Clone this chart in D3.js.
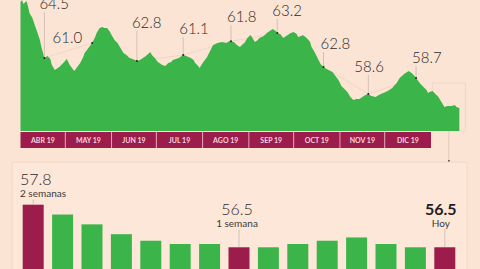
<!DOCTYPE html>
<html>
<head>
<meta charset="utf-8">
<script src="https://cdn.jsdelivr.net/npm/d3@7"></script>
<style>
  html, body { margin: 0; padding: 0; background: #fce4d4; overflow: hidden; }
  svg { display: block; }
  text { font-family: Lato, "Open Sans", sans-serif; }
</style>
</head>
<body>
<svg id="chart" width="480" height="269"></svg>
<script>
// ---------------- DATA ----------------
// Area series: day offset from 2019-04-01, index value
const areaDays = [0,1,2,4,5,6,8,10,11,13,14,16,18,20,21,23,24,26,28,31,33,35,36,38,40,42,43,45,48,50,51,53,55,56,58,60,61,63,65,67,69,71,73,75,78,80,82,84,87,88,90,92,95,97,99,101,102,104,106,109,111,114,116,117,119,120,122,125,127,129,132,135,138,140,143,145,147,149,150,152,154,155,157,159,160,163,165,167,169,171,172,174,176,178,179,181,183,185,186,188,189,191,193,194,195,197,199,201,203,205,209,211,213,215,219,221,223,225,227,229,231,233,235,238,240,243,246,249,252,254,257,260,262,264,266,268,270,272,273,274,276,278,280,282,284,286,289,291,292,294];
const areaValues = [64.8,65.0,64.6,64.9,64.4,63.7,63.2,62.3,61.9,61.0,60.3,59.2,59.4,59.1,58.5,58.0,58.1,58.3,58.6,59.1,58.5,58.1,57.9,58.3,58.7,59.3,59.7,60.1,60.7,61.3,61.7,62.2,62.3,62.2,62.2,61.8,61.5,61.0,60.7,60.2,59.7,59.5,59.2,59.1,58.9,59.0,59.2,59.4,59.8,59.5,59.2,58.8,58.5,58.4,58.7,58.8,59.0,59.1,59.2,59.5,59.4,59.2,59.0,58.7,58.4,58.2,58.7,59.3,59.9,60.5,60.7,60.8,60.7,60.9,60.8,60.5,60.3,60.6,60.7,61.2,61.5,61.3,60.8,61.0,61.2,61.4,61.7,61.9,62.1,61.9,61.7,61.6,61.2,61.4,61.5,61.7,61.8,61.6,61.3,61.4,61.5,61.3,61.0,60.8,60.3,59.8,59.2,58.6,58.3,58.1,57.8,57.4,57.0,56.4,55.8,55.3,55.0,55.1,55.1,55.3,55.5,55.6,55.4,55.3,55.5,55.7,55.9,56.2,56.7,57.2,57.6,57.9,57.7,57.4,57.0,56.6,56.3,56.0,55.7,55.8,55.9,55.6,55.3,54.8,54.3,54.4,54.4,54.5,54.3,54.2];

// Annotations on the area (day offset + label)
const annDays   = [16, 48, 78, 109, 141, 172, 203, 233, 265];
const annLabels = ["64.5","61.0","62.8","61.1","61.8","63.2","62.8","58.6","58.7"];

// Month band
const monthLabels = ["ABR 19","MAY 19","JUN 19","JUL 19","AGO 19","SEP 19","OCT 19","NOV 19","DIC 19"];

// Bars: last 15 days
const barDays   = d3.range(-14, 1);
const barValues = [57.8,57.5,57.2,56.9,56.7,56.6,56.6,56.5,56.5,56.6,56.7,56.8,56.6,56.5,56.5];
const barHighlight = [0, 7, 14];
const barNotes  = ["2 semanas", "1 semana", "Hoy"];

// ---------------- LAYOUT / STYLE ----------------
const C = {
  bg: "#fce4d4", green: "#3bb54a", maroon: "#9c1d4b", text: "#2b2b2b",
  monthText: "#f7d3de", leader: "#8c8c8c", faint: "#e8cbc0"
};
const annLift = [49, 0, 33, 21, 19, 17, 18, 22, 15];
const annDx   = [-5, -10, -5, -4, -4, -5, -3, -14, -4];

const svg = d3.select("#chart");
const start = new Date(2019, 3, 1);
const end = new Date(2020, 0, 1);
const dayDate = d => d3.timeDay.offset(start, d);

const x = d3.scaleTime().domain([start, end]).range([20.5, 431]);
const y = d3.scaleLinear().domain([51.9, 65]).range([131, 0]);

const areaData = areaDays.map((d, i) => ({ date: dayDate(d), v: areaValues[i] }));
const interp = day => {
  const i = d3.bisectLeft(areaDays, day);
  if (areaDays[i] === day) return areaValues[i];
  const d0 = areaDays[i - 1], d1 = areaDays[i];
  const t = (day - d0) / (d1 - d0);
  return areaValues[i - 1] + t * (areaValues[i] - areaValues[i - 1]);
};
const ann = annDays.map((d, i) => ({
  px: x(dayDate(d)), py: y(interp(d)), label: annLabels[i], lift: annLift[i], dx: annDx[i]
}));

// faint connector line through annotation points (behind area)
svg.append("path")
  .attr("d", d3.line().x(d => d.px).y(d => d.py)(ann))
  .attr("fill", "none").attr("stroke", C.faint).attr("stroke-width", 0.6);

// zoom box for last two weeks
const lastDay = areaDays[areaDays.length - 1];
const boxX0 = x(dayDate(lastDay - 18)), boxX1 = x(dayDate(lastDay)) + 6;
svg.append("rect")
  .attr("x", boxX0).attr("y", 83).attr("width", boxX1 - boxX0).attr("height", 48)
  .attr("fill", "none").attr("stroke", "#e6d3ca").attr("stroke-width", 0.7);

// area
svg.append("path")
  .datum(areaData)
  .attr("d", d3.area().x(d => x(d.date)).y0(y(51.9)).y1(d => y(d.v)))
  .attr("fill", C.green);

// annotations
ann.forEach((a, i) => {
  const base = a.py - a.lift;
  if (a.lift > 0) {
    svg.append("line")
      .attr("x1", a.px).attr("x2", a.px)
      .attr("y1", a.py).attr("y2", base + 3)
      .attr("stroke", "#a89c98").attr("stroke-width", 0.5);
  }
  svg.append("circle").attr("cx", a.px).attr("cy", a.py).attr("r", 1).attr("fill", "#222");
  svg.append("text")
    .attr("x", a.px + a.dx).attr("y", base)
    .attr("text-anchor", a.lift > 0 ? "start" : "end")
    .attr("font-size", 15).attr("font-weight", 300)
    .attr("fill", C.text)
    .text(a.label);
});

// month band
const months = d3.timeMonth.range(start, end);
const band = svg.append("g");
months.forEach((m, i) => {
  const x0 = x(m), x1 = x(d3.timeMonth.offset(m, 1));
  band.append("rect").attr("x", x0).attr("y", 132).attr("width", x1 - x0).attr("height", 16)
    .attr("fill", C.maroon);
  if (i > 0) band.append("line").attr("x1", x0).attr("x2", x0).attr("y1", 132).attr("y2", 148)
    .attr("stroke", "#f0bccb").attr("stroke-width", 0.8);
  band.append("text")
    .attr("x", (x0 + x1) / 2).attr("y", 142.7)
    .attr("text-anchor", "middle")
    .attr("font-size", 7).attr("font-weight", 700)
    .attr("fill", C.monthText)
    .text(monthLabels[i]);
});

// connector from zoom box to bar panel
const connX = (boxX0 + boxX1) / 2;
svg.append("line").attr("x1", connX).attr("x2", connX).attr("y1", 131).attr("y2", 161)
  .attr("stroke", "#c9b5ad").attr("stroke-width", 0.6);
svg.append("circle").attr("cx", connX).attr("cy", 161).attr("r", 0.9).attr("fill", "#333");

// bar panel
svg.append("rect")
  .attr("x", 12).attr("y", 162).attr("width", 455).attr("height", 120).attr("rx", 2)
  .attr("fill", "#fde7d9").attr("stroke", "#f2d7c7").attr("stroke-width", 1);

const xb = d3.scaleBand().domain(barDays).range([22.7, 455.3]).paddingInner(0.286).paddingOuter(0);
const yb = d3.scaleLinear().domain([55.8, 57.8]).range([270.2, 204.7]);

svg.append("g").selectAll("rect")
  .data(barDays)
  .join("rect")
  .attr("x", d => xb(d))
  .attr("y", (d, i) => yb(barValues[i]))
  .attr("width", xb.bandwidth())
  .attr("height", (d, i) => yb(55.8) - yb(barValues[i]) + 10)
  .attr("fill", (d, i) => barHighlight.includes(i) ? C.maroon : C.green);

// bar annotations
barHighlight.forEach((idx, k) => {
  const cx = xb(barDays[idx]) + xb.bandwidth() / 2;
  const top = yb(barValues[idx]);
  let tx, anchor, bold = false, base;
  if (k === 0) { tx = xb(barDays[idx]) - 2.7; anchor = "start"; base = 185; }
  else if (k === 1) { tx = cx - 2; anchor = "middle"; base = 215; }
  else { tx = cx - 4; anchor = "middle"; base = 214.5; bold = true; }
  svg.append("line").attr("x1", cx).attr("x2", cx)
    .attr("y1", base + 14.5).attr("y2", top)
    .attr("stroke", "#a89c98").attr("stroke-width", 0.5);
  svg.append("text")
    .attr("x", tx).attr("y", base)
    .attr("text-anchor", anchor)
    .attr("font-size", bold ? 16 : 16)
    .attr("font-weight", bold ? 700 : 300)
    .attr("fill", bold ? "#1e1e1e" : C.text)
    .text(d3.format(".1f")(barValues[idx]));
  svg.append("text")
    .attr("x", tx).attr("y", base + (bold ? 12.5 : 11.5))
    .attr("text-anchor", anchor)
    .attr("font-size", 10).attr("font-weight", 400)
    .attr("fill", "#3a3a3a")
    .text(barNotes[k]);
});
</script>
</body>
</html>
